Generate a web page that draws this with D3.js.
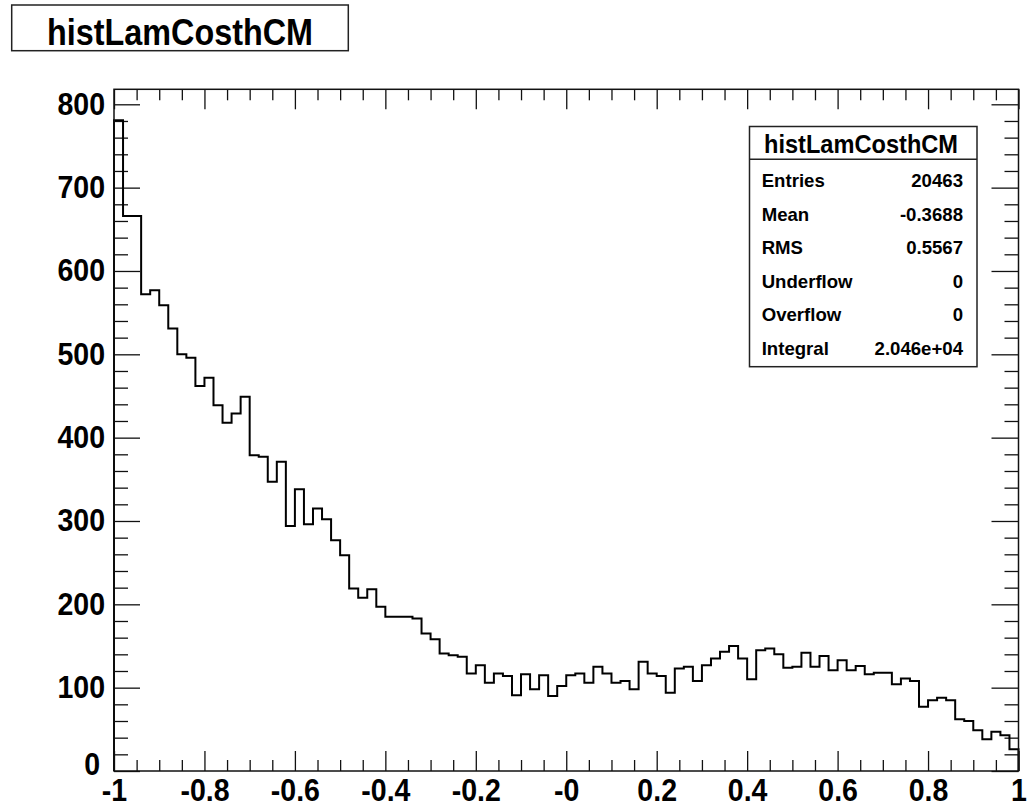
<!DOCTYPE html>
<html>
<head>
<meta charset="utf-8">
<script src="https://cdn.jsdelivr.net/npm/d3@7"></script>
<style>
  body { margin: 0; background: #fff; }
  text { font-family: "Liberation Sans", Arial, Helvetica, sans-serif; font-weight: bold; fill: #000; }
</style>
</head>
<body>
<svg id="canvas" width="1028" height="810"></svg>
<script>
// Histogram: cos(theta) of the Lambda in the CM frame, 100 bins on [-1, 1]
const histName = "histLamCosthCM";
const binRange = [-1, 1];
const counts = [
  781, 666, 666, 572, 577, 559, 531, 500, 496, 462,
  472, 439, 418, 429, 449, 379, 377, 347, 371, 294,
  338, 296, 315, 302, 277, 259, 219, 208, 218, 197,
  185, 185, 185, 183, 165, 158, 141, 139, 137, 117,
  127, 106, 117, 114,  91, 116,  98, 115,  90, 102,
  115, 117, 106, 125, 117, 106, 108,  98, 131, 117,
  114,  94, 123, 125, 108, 127, 135, 143, 150, 135,
  110, 145, 147, 140, 124, 125, 142, 125, 138, 121,
  133, 121, 126, 116, 118, 118, 104, 111, 108,  77,
   85,  88,  85,  62,  60,  49,  38,  47,  43,  26
];
const yMax = 818;

const xTickValues = [-1, -0.8, -0.6, -0.4, -0.2, 0, 0.2, 0.4, 0.6, 0.8, 1];
const xTickLabels = ["-1", "-0.8", "-0.6", "-0.4", "-0.2", "-0", "0.2", "0.4", "0.6", "0.8", "1"];
const xMinorStep = 0.05;
const yTickValues = [0, 100, 200, 300, 400, 500, 600, 700, 800];
const yMinorStep = 20;

const statNames = ["Entries", "Mean", "RMS", "Underflow", "Overflow", "Integral"];
const statValues = ["20463", "-0.3688", "0.5567", "0", "0", "2.046e+04"];

// Frame geometry
const frame = { left: 114, right: 1018.5, top: 89.3, bottom: 771 };

const svg = d3.select("#canvas");
svg.append("rect").attr("width", 1028).attr("height", 810).attr("fill", "#fff");

const x = d3.scaleLinear().domain(binRange).range([frame.left, frame.right]);
const y = d3.scaleLinear().domain([0, yMax]).range([frame.bottom, frame.top]);

// squeeze glyphs horizontally (narrow Helvetica look)
function squeeze(sel, factor) {
  sel.each(function () {
    const len = this.getComputedTextLength();
    d3.select(this).attr("textLength", len * factor).attr("lengthAdjust", "spacingAndGlyphs");
  });
}

// Minor tick positions
const nBins = counts.length;
const binWidth = (binRange[1] - binRange[0]) / nBins;
const xMinor = d3.range(-20, 21).filter(i => i % 4 !== 0).map(i => i * xMinorStep);
const yMinor = d3.range(0, yMax + 1, yMinorStep).filter(v => v % 100 !== 0);

const axisStyle = g => {
  g.select(".domain").remove();
  g.selectAll(".tick line").attr("stroke", "#111").attr("stroke-width", 1.3);
};

// Bottom axis
svg.append("g").attr("transform", `translate(0,${frame.bottom})`)
  .call(d3.axisBottom(x).tickValues(xMinor).tickSize(-11).tickFormat(""))
  .call(axisStyle);
const xAxisG = svg.append("g").attr("transform", `translate(0,${frame.bottom})`)
  .call(d3.axisBottom(x).tickValues(xTickValues).tickSize(-20).tickPadding(8)
    .tickFormat((d, i) => xTickLabels[i]))
  .call(axisStyle);
xAxisG.selectAll(".tick text").attr("font-size", 31).attr("font-family", null)
  .call(squeeze, 0.92);

// Top axis
svg.append("g").attr("transform", `translate(0,${frame.top})`)
  .call(d3.axisTop(x).tickValues(xMinor).tickSize(-11).tickFormat(""))
  .call(axisStyle);
svg.append("g").attr("transform", `translate(0,${frame.top})`)
  .call(d3.axisTop(x).tickValues(xTickValues).tickSize(-20).tickFormat(""))
  .call(axisStyle);

// Left axis
svg.append("g").attr("transform", `translate(${frame.left},0)`)
  .call(d3.axisLeft(y).tickValues(yMinor).tickSize(-14).tickFormat(""))
  .call(axisStyle);
const yAxisG = svg.append("g").attr("transform", `translate(${frame.left},0)`)
  .call(d3.axisLeft(y).tickValues(yTickValues).tickSize(-26).tickPadding(9)
    .tickFormat(d3.format("d")))
  .call(axisStyle);
yAxisG.selectAll(".tick text").attr("font-size", 31).attr("font-family", null)
  .call(squeeze, 0.92);
// keep the zero label clear of the "-1" label below it
yAxisG.selectAll(".tick text").filter(d => d === 0)
  .attr("x", -14).attr("dy", "0.12em");

// Right axis
svg.append("g").attr("transform", `translate(${frame.right},0)`)
  .call(d3.axisRight(y).tickValues(yMinor).tickSize(-14).tickFormat(""))
  .call(axisStyle);
svg.append("g").attr("transform", `translate(${frame.right},0)`)
  .call(d3.axisRight(y).tickValues(yTickValues).tickSize(-27).tickFormat(""))
  .call(axisStyle);

// Histogram outline as a step path
const pts = [[binRange[0], 0]];
counts.forEach((c, i) => {
  const lo = binRange[0] + i * binWidth;
  pts.push([lo, c], [lo + binWidth, c]);
});
pts.push([binRange[1], 0]);
svg.append("path")
  .attr("d", d3.line().x(d => x(d[0])).y(d => y(d[1]))(pts))
  .attr("fill", "none")
  .attr("stroke", "#000")
  .attr("stroke-width", 2)
  .attr("stroke-linejoin", "miter");

// Frame
svg.append("rect")
  .attr("x", frame.left).attr("y", frame.top)
  .attr("width", frame.right - frame.left).attr("height", frame.bottom - frame.top)
  .attr("fill", "none").attr("stroke", "#111").attr("stroke-width", 1.5);

// Title box
const titleBox = { x: 11.7, y: 5, w: 336.6, h: 45.7 };
svg.append("rect")
  .attr("x", titleBox.x).attr("y", titleBox.y).attr("width", titleBox.w).attr("height", titleBox.h)
  .attr("fill", "#fff").attr("stroke", "#222").attr("stroke-width", 1.5);
svg.append("text")
  .attr("x", titleBox.x + titleBox.w / 2).attr("y", 45)
  .attr("text-anchor", "middle").attr("font-size", 36)
  .text(histName)
  .attr("textLength", 266).attr("lengthAdjust", "spacingAndGlyphs");

// Statistics box
const stat = { x: 749.5, y: 126.5, w: 227.5, h: 240.2, headerLine: 159.3 };
svg.append("rect")
  .attr("x", stat.x).attr("y", stat.y).attr("width", stat.w).attr("height", stat.h)
  .attr("fill", "#fff").attr("stroke", "#222").attr("stroke-width", 1.5);
svg.append("line")
  .attr("x1", stat.x).attr("x2", stat.x + stat.w)
  .attr("y1", stat.headerLine).attr("y2", stat.headerLine)
  .attr("stroke", "#222").attr("stroke-width", 1.5);
svg.append("text")
  .attr("x", 861).attr("y", 153)
  .attr("text-anchor", "middle").attr("font-size", 25)
  .text(histName)
  .attr("textLength", 194).attr("lengthAdjust", "spacingAndGlyphs");

const rowY = i => 187 + i * 33.6;
svg.append("g").selectAll("text").data(statNames).join("text")
  .attr("x", 761.7).attr("y", (d, i) => rowY(i))
  .attr("font-size", 18.6)
  .text(d => d);
svg.append("g").selectAll("text").data(statValues).join("text")
  .attr("x", 963).attr("y", (d, i) => rowY(i))
  .attr("text-anchor", "end").attr("font-size", 18.6)
  .text(d => d);
</script>
</body>
</html>
